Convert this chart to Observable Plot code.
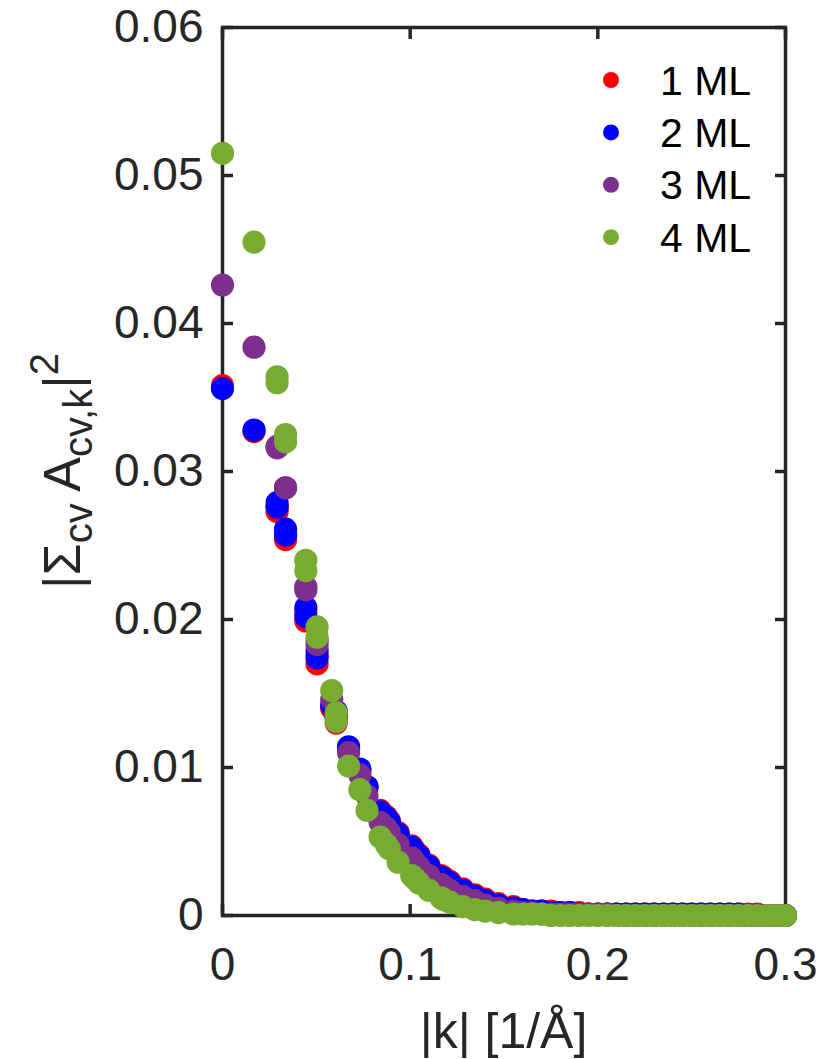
<!DOCTYPE html>
<html>
<head>
<meta charset="utf-8">
<script src="https://cdn.jsdelivr.net/npm/d3@7"></script>
<script src="https://cdn.jsdelivr.net/npm/@observablehq/plot@0.6"></script>
<style>
  html, body { margin: 0; padding: 0; background: #ffffff; }
  #chart { width: 823px; height: 1059px; }
</style>
</head>
<body>
<div id="chart"></div>
<script>
// |k| values [1/Å] (shared by all series)
const kValues = [
  0, 0.0168, 0.0291, 0.0291, 0.0336, 0.0336, 0.0444, 0.0444, 0.0504, 0.0504,
  0.0582, 0.0606, 0.0606, 0.0672, 0.0732, 0.0770, 0.0840, 0.0873, 0.0889, 0.0936,
  0.1008, 0.1024, 0.1047, 0.1100, 0.1164, 0.1176, 0.1212, 0.1280, 0.1344, 0.1400,
  0.1470, 0.1550, 0.1600, 0.165, 0.170, 0.175, 0.180, 0.185, 0.190, 0.195,
  0.200, 0.205, 0.210, 0.215, 0.220, 0.225, 0.230, 0.235, 0.240, 0.245,
  0.250, 0.255, 0.260, 0.265, 0.270, 0.275, 0.280, 0.285, 0.290, 0.295, 0.300
];
// |Σcv Acv,k|^2 for each number of monolayers
const ml1 = [
  0.0358, 0.0327, 0.0276, 0.0273, 0.0258, 0.0254, 0.0205, 0.0199, 0.0176, 0.0170,
  0.0140, 0.0135, 0.0130, 0.0112, 0.0098, 0.0087, 0.0071, 0.0067, 0.0064, 0.0056,
  0.0047, 0.0044, 0.0041, 0.0034, 0.0027, 0.0026, 0.0023, 0.0018, 0.0014, 0.0011,
  0.0008, 0.0006, 0.0004, 0.0003, 0.0003, 0.0003, 0.0002, 0.0002, 0.0002, 0.0001,
  0.0001, 0.0001, 0.0001, 0.0001, 0.0001, 0.0001, 0.0001, 0.0001, 0.0001, 0.0001,
  0.0001, 0.0001, 0.0001, 0.0001, 0.0001, 0.0001, 0.0001, 0.0001, 0, 0, 0
];
const ml2 = [
  0.0356, 0.0328, 0.0279, 0.0276, 0.0261, 0.0257, 0.0208, 0.0202, 0.0179, 0.0174,
  0.0142, 0.0138, 0.0134, 0.0114, 0.0099, 0.0087, 0.0070, 0.0066, 0.0063, 0.0055,
  0.0046, 0.0043, 0.0040, 0.0033, 0.0026, 0.0025, 0.0022, 0.0017, 0.0013, 0.0010,
  0.0007, 0.0005, 0.0004, 0.0003, 0.0003, 0.0002, 0.0002, 0.0002, 0.0001, 0.0001,
  0.0001, 0.0001, 0.0001, 0.0001, 0.0001, 0.0001, 0.0001, 0.0001, 0.0001, 0.0001,
  0.0001, 0.0001, 0.0001, 0.0001, 0.0001, 0.0001, 0, 0, 0, 0, 0
];
const ml3 = [
  0.0426, 0.0384, 0.0317, 0.0316, 0.0289, 0.0289, 0.0222, 0.0220, 0.0186, 0.0183,
  0.0146, 0.0136, 0.0134, 0.0110, 0.0095, 0.0081, 0.0063, 0.0059, 0.0056, 0.0048,
  0.0039, 0.0036, 0.0033, 0.0027, 0.0021, 0.0020, 0.0017, 0.0013, 0.0010, 0.0007,
  0.0005, 0.0003, 0.0002, 0.0002, 0.0001, 0.0001, 0.0001, 0.0001, 0.0001, 0.0001,
  0.0001, 0.0001, 0, 0, 0, 0, 0, 0, 0, 0,
  0, 0, 0, 0, 0, 0, 0, 0, 0, 0, 0
];
const ml4 = [
  0.0515, 0.0455, 0.0364, 0.0360, 0.0325, 0.0320, 0.0240, 0.0233, 0.0195, 0.0188,
  0.0152, 0.0137, 0.0131, 0.0101, 0.0085, 0.0071, 0.0053, 0.0048, 0.0045, 0.0036,
  0.0027, 0.0025, 0.0022, 0.0017, 0.0012, 0.0011, 0.0009, 0.0006, 0.0004, 0.0003,
  0.0002, 0.0001, 0.0001, 0.0001, 0.0001, 0, 0, 0, 0, 0,
  0, 0, 0, 0, 0, 0, 0, 0, 0, 0,
  0, 0, 0, 0, 0, 0, 0, 0, 0, 0, 0
];
const seriesNames = ["1 ML", "2 ML", "3 ML", "4 ML"];
const seriesColors = ["#FF0000", "#0000FF", "#7E2F8E", "#77AC30"];
const xTicks = [0, 0.1, 0.2, 0.3];
const xTickLabels = ["0", "0.1", "0.2", "0.3"];
const yTicks = [0, 0.01, 0.02, 0.03, 0.04, 0.05, 0.06];
const yTickLabels = ["0", "0.01", "0.02", "0.03", "0.04", "0.05", "0.06"];
const xLabel = "|k| [1/Å]";

const seriesValues = [ml1, ml2, ml3, ml4];
const rows = [];
seriesValues.forEach((vals, si) => {
  vals.forEach((v, i) => rows.push({ k: kValues[i], a: v, s: seriesNames[si] }));
});

const W = 823, H = 1059;
const mL = 222, mR = 38, mT = 27, mB = 144;
const ink = "#262626";
const font = "'Liberation Sans', Arial, Helvetica, sans-serif";

const plot = Plot.plot({
  width: W, height: H,
  marginLeft: mL, marginRight: mR, marginTop: mT, marginBottom: mB,
  style: { fontFamily: font, background: "#ffffff", color: ink, overflow: "visible" },
  x: { domain: [0, 0.3], label: null },
  y: { domain: [0, 0.06], label: null },
  color: { domain: seriesNames, range: seriesColors },
  marks: [
    Plot.frame({ stroke: ink, strokeWidth: 3.5 }),
    Plot.axisX(xTicks, { anchor: "bottom", tickSize: -11, tickPadding: 43, strokeWidth: 3.5, color: ink, fontSize: 46,
      tickFormat: d => xTickLabels[xTicks.indexOf(d)], label: null }),
    Plot.axisX(xTicks, { anchor: "top", tickSize: -11, strokeWidth: 3.5, color: ink, tickFormat: () => "", label: null }),
    Plot.axisY(yTicks, { anchor: "left", tickSize: -11, tickPadding: 30, strokeWidth: 3.5, color: ink, fontSize: 46,
      tickFormat: d => yTickLabels[yTicks.indexOf(d)], label: null }),
    Plot.axisY(yTicks, { anchor: "right", tickSize: -11, strokeWidth: 3.5, color: ink, tickFormat: () => "", label: null }),
    Plot.dot(rows, { x: "k", y: "a", fill: "s", r: 11.6, stroke: null })
  ]
});
document.getElementById("chart").appendChild(plot);

const svg = d3.select(plot);

// x-axis title
svg.append("text")
  .attr("x", mL + (W - mL - mR) / 2)
  .attr("y", 1048)
  .attr("text-anchor", "middle")
  .attr("font-family", font)
  .attr("font-size", 50)
  .attr("fill", ink)
  .text(xLabel);

// y-axis title with sub/superscripts
const yl = svg.append("text")
  .attr("transform", `translate(80, ${mT + (H - mT - mB) / 2}) rotate(-90)`)
  .attr("text-anchor", "middle")
  .attr("font-family", font)
  .attr("font-size", 52)
  .attr("fill", ink);
yl.append("tspan").text("|Σ");
yl.append("tspan").attr("dy", 12).attr("font-size", 40).text("cv");
yl.append("tspan").attr("dy", -12).text(" A");
yl.append("tspan").attr("dy", 12).attr("font-size", 40).text("cv,k");
yl.append("tspan").attr("dy", -12).text("|");
yl.append("tspan").attr("dy", -22).attr("font-size", 40).text("2");

// legend
const lg = svg.append("g");
seriesNames.forEach((name, i) => {
  const cy = 80 + i * 52.4;
  lg.append("circle").attr("cx", 611).attr("cy", cy).attr("r", 8).attr("fill", seriesColors[i]);
  lg.append("text").attr("x", 660).attr("y", cy + 14.5)
    .attr("text-anchor", "start")
    .attr("font-family", font).attr("font-size", 41).attr("fill", "#000000").text(name);
});
</script>
</body>
</html>
